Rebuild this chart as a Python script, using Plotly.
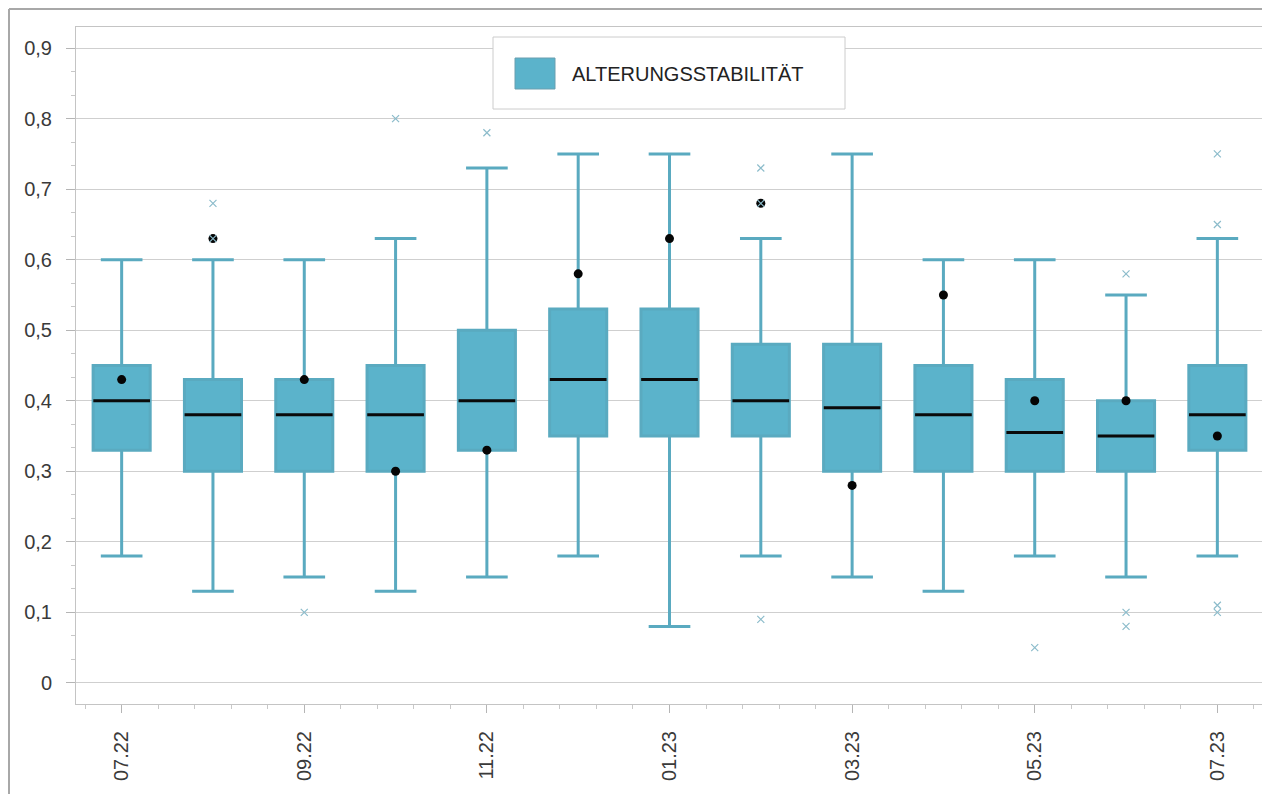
import plotly.graph_objects as go

# ---------------- data ----------------
months = ["07.22", "08.22", "09.22", "10.22", "11.22", "12.22", "01.23",
          "02.23", "03.23", "04.23", "05.23", "06.23", "07.23"]
whisker_low = [0.18, 0.13, 0.15, 0.13, 0.15, 0.18, 0.08, 0.18, 0.15, 0.13, 0.18, 0.15, 0.18]
q1 = [0.33, 0.30, 0.30, 0.30, 0.33, 0.35, 0.35, 0.35, 0.30, 0.30, 0.30, 0.30, 0.33]
median = [0.40, 0.38, 0.38, 0.38, 0.40, 0.43, 0.43, 0.40, 0.39, 0.38, 0.355, 0.35, 0.38]
q3 = [0.45, 0.43, 0.43, 0.45, 0.50, 0.53, 0.53, 0.48, 0.48, 0.45, 0.43, 0.40, 0.45]
whisker_high = [0.60, 0.60, 0.60, 0.63, 0.73, 0.75, 0.75, 0.63, 0.75, 0.60, 0.60, 0.55, 0.63]
mean = [0.43, 0.63, 0.43, 0.30, 0.33, 0.58, 0.63, 0.68, 0.28, 0.55, 0.40, 0.40, 0.35]
outlier_month = ["08.22", "08.22", "09.22", "10.22", "11.22", "02.23", "02.23", "02.23",
                 "05.23", "06.23", "06.23", "06.23", "07.23", "07.23", "07.23", "07.23"]
outlier_value = [0.68, 0.63, 0.10, 0.80, 0.78, 0.73, 0.68, 0.09,
                 0.05, 0.58, 0.10, 0.08, 0.75, 0.65, 0.11, 0.10]
y_ticks = [0, 0.1, 0.2, 0.3, 0.4, 0.5, 0.6, 0.7, 0.8, 0.9]
y_tick_text = ["0", "0,1", "0,2", "0,3", "0,4", "0,5", "0,6", "0,7", "0,8", "0,9"]
x_label_months = ["07.22", "09.22", "11.22", "01.23", "03.23", "05.23", "07.23"]
series_name = "ALTERUNGSSTABILITÄT"

# ---------------- styling ----------------
FILL = "#5BB3CB"
LINE = "#5AAAC0"
FONT = "Liberation Sans, Arial, sans-serif"
TEXT = "#3a3a3a"
GRID = "#cfcfcf"

xpos = {m: i for i, m in enumerate(months)}
x_idx = [xpos[m] for m in months]

fig = go.Figure()

fig.add_trace(go.Box(
    x=x_idx,
    q1=q1, median=median, q3=q3,
    lowerfence=whisker_low, upperfence=whisker_high,
    width=0.625,
    whiskerwidth=0.73,
    fillcolor=FILL,
    line=dict(color=LINE, width=3),
    boxpoints=False,
    name=series_name,
    showlegend=False,
    hoverinfo="skip",
))

# median lines (black)
fig.add_trace(go.Scatter(
    x=x_idx, y=median,
    mode="markers",
    marker=dict(symbol="line-ew", size=40.5, line=dict(color="#0a0a0a", width=3)),
    showlegend=False, hoverinfo="skip",
))

# means (black dots)
fig.add_trace(go.Scatter(
    x=x_idx, y=mean,
    mode="markers",
    marker=dict(symbol="circle", size=9, color="#050505"),
    showlegend=False, hoverinfo="skip",
))

# outliers (drawn on top, as in the reference)
fig.add_trace(go.Scatter(
    x=[xpos[m] for m in outlier_month], y=outlier_value,
    mode="markers",
    marker=dict(symbol="x-thin", size=7, line=dict(color="#8CBCCB", width=1.2)),
    showlegend=False, hoverinfo="skip",
))

# ---------------- layout ----------------
# the page body has an 8px margin; page coordinates below are measured on the screen
OFF = 8
W, H = 1262, 786
L, R, T, B = 68, 7, 19, 90
pw, ph = W - L - R, H - T - B


def px_x(p):
    return (p - OFF - L) / pw


def px_y(p):
    return (H - B - (p - OFF)) / ph


shapes = [
    # outer frame (left & top)
    dict(type="line", xref="paper", yref="paper", x0=px_x(9), x1=px_x(9),
         y0=px_y(800), y1=px_y(9), line=dict(color="#a8a8a8", width=2), layer="above"),
    dict(type="line", xref="paper", yref="paper", x0=px_x(9), x1=px_x(1272),
         y0=px_y(9), y1=px_y(9), line=dict(color="#a8a8a8", width=2), layer="above"),
    # legend box
    dict(type="rect", xref="paper", yref="paper", x0=px_x(493), x1=px_x(845),
         y0=px_y(109), y1=px_y(37), fillcolor="white",
         line=dict(color="#cccccc", width=1), layer="above"),
    # legend swatch
    dict(type="rect", xref="paper", yref="paper", x0=px_x(515), x1=px_x(555),
         y0=px_y(89), y1=px_y(58), fillcolor=FILL,
         line=dict(color="#6a9fb0", width=1), layer="above"),
]

annotations = [
    dict(xref="paper", yref="paper", x=px_x(570), y=px_y(73.5), xanchor="left",
         yanchor="middle", text=series_name, showarrow=False,
         font=dict(family=FONT, size=20, color="#222222")),
]

fig.update_layout(
    width=W, height=H,
    margin=dict(l=L, r=R, t=T, b=B),
    paper_bgcolor="white",
    plot_bgcolor="white",
    font=dict(family=FONT, size=20, color=TEXT),
    shapes=shapes,
    annotations=annotations,
    showlegend=False,
)

fig.update_xaxes(
    range=[-0.5, 12.5],
    tickmode="array",
    tickvals=[xpos[m] for m in x_label_months],
    ticktext=x_label_months,
    tickangle=-90,
    ticks="outside", ticklen=8, tickcolor="#b5b5b5", tickwidth=1,
    minor=dict(tick0=0, dtick=0.4, ticks="outside", ticklen=4, tickcolor="#c8c8c8"),
    showgrid=False, zeroline=False,
    showline=True, linecolor="#c4c4c4", linewidth=1, mirror=True,
    tickfont=dict(family=FONT, size=20, color=TEXT),
    ticklabelstandoff=10,
)

fig.update_yaxes(
    range=[-0.03, 0.93],
    tickmode="array",
    tickvals=y_ticks,
    ticktext=y_tick_text,
    ticks="outside", ticklen=9, tickcolor="#b5b5b5", tickwidth=1,
    minor=dict(tick0=0, dtick=0.1 / 3, ticks="outside", ticklen=4, tickcolor="#c8c8c8"),
    showgrid=True, gridcolor=GRID, gridwidth=1,
    zeroline=False,
    showline=True, linecolor="#c4c4c4", linewidth=1, mirror=True,
    tickfont=dict(family=FONT, size=20, color=TEXT),
    ticklabelstandoff=10,
)

fig.write_html("out.html")
